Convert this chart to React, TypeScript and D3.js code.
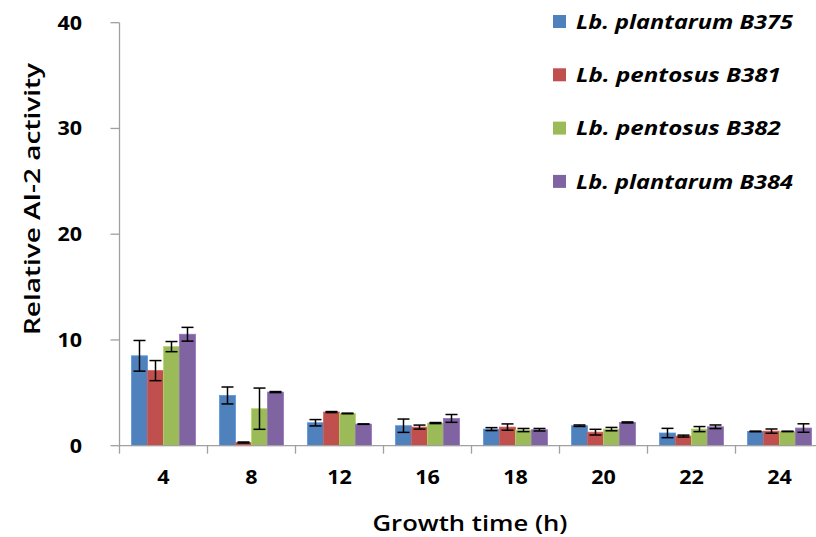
import React from "react";
import * as d3 from "d3";

const categories = ["4", "8", "12", "16", "18", "20", "22", "24"];
const seriesNames = ["Lb. plantarum B375", "Lb. pentosus B381", "Lb. pentosus B382", "Lb. plantarum B384"];
const colors = ["#4F81BD", "#C0504D", "#9BBB59", "#8064A2"];

const b375 = [8.5, 4.75, 2.17, 1.89, 1.57, 1.89, 1.2, 1.35];
const b375Err = [1.45, 0.8, 0.3, 0.63, 0.14, 0.07, 0.44, 0.03];
const b381 = [7.1, 0.3, 3.18, 1.76, 1.76, 1.28, 0.91, 1.38];
const b381Err = [0.95, 0.05, 0.05, 0.19, 0.3, 0.27, 0.09, 0.2];
const b382 = [9.37, 3.5, 3.05, 2.14, 1.48, 1.57, 1.57, 1.35];
const b382Err = [0.48, 1.95, 0.03, 0.05, 0.15, 0.16, 0.24, 0.02];
const b384 = [10.54, 5.07, 2.04, 2.58, 1.51, 2.2, 1.79, 1.67];
const b384Err = [0.65, 0.05, 0.02, 0.37, 0.12, 0.05, 0.17, 0.4];

const yTicks = [0, 10, 20, 30, 40];
const xTitle = "Growth time (h)";
const yTitle = "Relative AI-2 activity";

const values = [b375, b381, b382, b384];
const errors = [b375Err, b381Err, b382Err, b384Err];

const W = 816;
const H = 537;
const FONT = "'Open Sans', sans-serif";
const AXIS = "#A0A0A0";

export default function App() {
  const left = 119.5;
  const step = 88;
  const x0 = d3
    .scaleBand<string>()
    .domain(categories)
    .range([left, left + step * categories.length])
    .paddingInner(24 / 88)
    .paddingOuter(12 / 88);
  const x1 = d3.scaleBand<string>().domain(seriesNames).range([0, x0.bandwidth()]);
  const y = d3.scaleLinear().domain([0, 40]).range([445.7, 22.7]);

  const boundaries = d3.range(categories.length + 1).map((i) => left + step * i);
  const digitW = 12.3;
  const legendW = (s: string) => s.length * 12.05;

  return (
    <svg width={W} height={H} style={{ position: "absolute", left: 0, top: 0, background: "#fff" }}>
      {seriesNames.map((s, si) => (
        <g key={s}>
          {categories.map((c, ci) => {
            const v = values[si][ci];
            const bx = (x0(c) as number) + (x1(s) as number);
            return (
              <rect
                key={c}
                x={bx}
                y={y(v)}
                width={x1.bandwidth()}
                height={y(0) - y(v)}
                fill={colors[si]}
                stroke={d3.color(colors[si])!.brighter(0.4).toString()}
                strokeWidth={0.8}
              />
            );
          })}
        </g>
      ))}
      {seriesNames.map((s, si) => (
        <g key={s + "err"} stroke="#000" strokeWidth={1.5}>
          {categories.map((c, ci) => {
            const v = values[si][ci];
            const e = errors[si][ci];
            const cx = (x0(c) as number) + (x1(s) as number) + x1.bandwidth() / 2;
            const yt = y(v + e);
            const yb = y(v - e);
            return (
              <g key={c}>
                <line x1={cx} x2={cx} y1={yt} y2={yb} />
                <line x1={cx - 6} x2={cx + 6} y1={yt} y2={yt} />
                <line x1={cx - 6} x2={cx + 6} y1={yb} y2={yb} />
              </g>
            );
          })}
        </g>
      ))}
      <line x1={left} x2={left} y1={y(40)} y2={y(0)} stroke={AXIS} strokeWidth={1.3} />
      {yTicks.map((t) => (
        <g key={t}>
          <line x1={left - 9} x2={left} y1={y(t)} y2={y(t)} stroke={AXIS} strokeWidth={1.3} />
          <text
            x={82}
            y={y(t)}
            dy="0.36em"
            textAnchor="end"
            fontFamily={FONT}
            fontWeight="bold"
            fontSize={19}
            textLength={String(t).length * digitW}
            lengthAdjust="spacingAndGlyphs"
            fill="#000"
          >
            {t}
          </text>
        </g>
      ))}
      <line x1={left} x2={W} y1={y(0)} y2={y(0)} stroke={AXIS} strokeWidth={1.3} />
      {boundaries.map((b, i) => (
        <line key={i} x1={b} x2={b} y1={y(0)} y2={y(0) + 8} stroke={AXIS} strokeWidth={1.3} />
      ))}
      {categories.map((c) => (
        <text
          key={c}
          x={(x0(c) as number) + x0.bandwidth() / 2}
          y={484}
          textAnchor="middle"
          fontFamily={FONT}
          fontWeight="bold"
          fontSize={19}
          textLength={c.length * digitW}
          lengthAdjust="spacingAndGlyphs"
          fill="#000"
        >
          {c}
        </text>
      ))}
      <text
        x={470}
        y={531}
        textAnchor="middle"
        fontFamily={FONT}
        fontWeight="600"
        fontSize={21}
        textLength={195}
        lengthAdjust="spacingAndGlyphs"
        fill="#000"
      >
        {xTitle}
      </text>
      <text
        transform={`translate(40,199) rotate(-90)`}
        textAnchor="middle"
        fontFamily={FONT}
        fontWeight="600"
        fontSize={22}
        textLength={272}
        lengthAdjust="spacingAndGlyphs"
        fill="#000"
      >
        {yTitle}
      </text>
      {seriesNames.map((s, si) => {
        const cy = 21.5 + si * 53.3;
        return (
          <g key={s + "leg"}>
            <rect x={553} y={cy - 6.5} width={13} height={13} fill={colors[si]} />
            <text
              x={576}
              y={cy}
              dy="0.36em"
              fontFamily={FONT}
              fontWeight="bold"
              fontStyle="italic"
              fontSize={20}
              textLength={legendW(s)}
              lengthAdjust="spacingAndGlyphs"
              fill="#000"
            >
              {s}
            </text>
          </g>
        );
      })}
    </svg>
  );
}
